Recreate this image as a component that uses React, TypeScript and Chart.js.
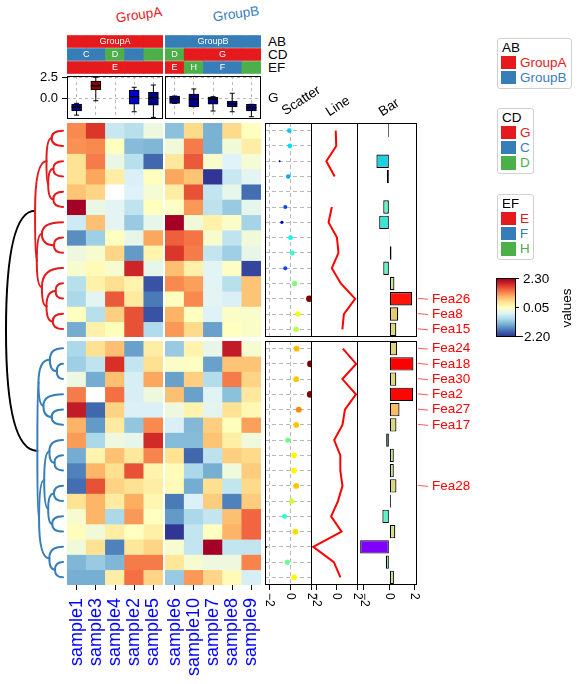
import React, { useEffect, useRef } from 'react';
import { Chart, registerables } from 'chart.js';

Chart.register(...registerables);

const FONT = '"Liberation Sans", Arial, Helvetica, sans-serif';
Chart.defaults.font.family = FONT;
Chart.defaults.color = '#000000';

// ---------------- data ----------------
const samplesA = ['sample1', 'sample3', 'sample4', 'sample2', 'sample5'];
const samplesB = ['sample6', 'sample10', 'sample7', 'sample8', 'sample9'];

const abLevelsA = ['GroupA', 'GroupA', 'GroupA', 'GroupA', 'GroupA'];
const abLevelsB = ['GroupB', 'GroupB', 'GroupB', 'GroupB', 'GroupB'];
const cdLevelsA = ['C', 'C', 'D', 'C', 'D'];
const cdLevelsB = ['D', 'G', 'G', 'G', 'G'];
const efLevelsA = ['E', 'E', 'E', 'E', 'E'];
const efLevelsB = ['E', 'H', 'F', 'F', 'H'];

const levelColors: Record<string, string> = {
  GroupA: '#E41A1C', GroupB: '#377EB8',
  G: '#E41A1C', C: '#377EB8', D: '#4DAF4A',
  E: '#E41A1C', F: '#377EB8', H: '#4DAF4A',
};

// heatmap values per sample: 14 rows of the upper slice, then 16 rows of the lower slice
const sample1 = [1.2, 1.15, 0.45, 0.45, 0.75, 2.3, -0.55, -1.55, -0.2, -0.07, -0.75, -0.85, 0.05, -1.3,
  -0.85, -0.95, -0.22, 1.3, 2.05, 0.9, 1.08, -1.3, -1.65, -1.8, 0.45, -0.08, 0.08, -0.15, -1.2, -1.28];
const sample3 = [1.8, 1.2, 1.3, 1.0, 0.6, -0.25, 0.8, -0.95, -0.07, 0.12, 0.25, -0.36, -0.75, 0.25,
  0.48, -0.68, -1.3, null, -1.85, -1.45, -0.85, 0.22, 0.88, 1.6, 0.88, 0.88, -0.15, 0.47, -1.0, -1.28];
const sample4 = [-0.6, 0.05, -0.25, 0.3, null, -0.35, -0.36, 0.05, 0.6, -0.08, 0.5, 1.55, 0.65, 0.08,
  0.8, 1.85, 0.8, 1.38, 0.62, 0.35, -0.2, 0.78, 0.5, 0.62, 0.32, -0.85, 0.3, -1.65, -1.2, 0.3];
const sample2 = [-0.75, -1.15, -0.75, -0.45, -0.42, -0.68, -1.0, -0.28, -1.45, 1.95, 0.22, 0.35, 1.6, 1.6,
  -1.4, -0.65, -0.48, -0.48, -0.43, -1.05, -0.3, 0.38, 1.6, 0.47, 0.95, 1.1, 0.05, 0.4, 1.3, 1.38];
const sample5 = [-0.2, -1.2, -1.85, 0.07, -0.1, 0.05, -0.3, 1.0, 0.2, -0.3, -2.0, -1.7, -2.0, -0.8,
  0.3, 0.48, 1.0, -0.2, -0.43, 1.2, 1.9, 1.25, 0.22, 0.3, 0.18, 0.05, 0.27, 0.6, 1.3, 0.6];
const sample6 = [-1.1, -0.15, 0.38, 1.0, 0.3, 0.0, 2.3, 1.5, 1.8, 0.8, 1.2, 0.05, 0.9, 1.1,
  -1.0, -0.02, -1.4, 0.8, -0.2, -0.45, -1.15, 0.45, 0.1, 0.12, -1.7, -1.45, -2.2, -0.08, 0.4, -1.0];
const sample10 = [0.55, 1.3, 1.55, 0.75, 1.6, 1.1, -0.15, 1.35, 1.3, 0.25, 1.05, 1.2, 0.05, 0.55,
  0.22, 0.03, 0.65, -1.4, 0.22, -1.18, -1.15, -1.85, -0.85, -1.3, -0.43, -0.85, -0.65, -0.65, -0.08, 1.1];
const sample7 = [-1.25, -1.25, -0.05, -2.2, -0.65, -0.7, 0.25, -0.05, -0.65, -0.37, -0.37, -0.36, -0.42, -1.4,
  -0.28, -1.4, -0.78, -0.38, -0.34, 0.65, 0.75, -0.7, -1.28, 0.5, 0.68, -0.65, 0.05, 2.3, -0.2, 0.6];
const sample8 = [0.55, -0.15, -0.4, -0.6, -0.3, -1.0, -0.02, -0.68, -0.95, 0.0, -0.75, -0.45, -0.01, 0.05,
  2.05, 0.75, 1.3, -1.1, 0.45, 0.07, 0.28, 0.65, -0.17, -0.65, -1.65, 0.8, 0.9, -0.65, -0.2, 0.12];
const sample9 = [0.05, 0.3, -0.1, -0.35, -1.8, -0.3, -0.9, -0.15, -0.28, -2.1, 0.75, 0.75, -0.03, -0.01,
  -0.08, 0.75, 0.6, 0.38, 0.15, 1.05, -0.18, 0.55, 0.68, 0.55, 0.68, 1.45, 1.45, -0.65, 1.25, -0.48];

const heatValues: Record<string, (number | null)[]> = {
  sample1, sample3, sample4, sample2, sample5, sample6, sample10, sample7, sample8, sample9,
};

const topRowCount = 14;
const bottomRowCount = 16;
const topRowLabels = ['', '', '', '', '', '', '', '', '', '', '', 'Fea26', 'Fea8', 'Fea15'];
const bottomRowLabels = ['Fea24', 'Fea18', 'Fea30', 'Fea2', 'Fea27', 'Fea17', '', '', '', 'Fea28', '', '', '', '', '', ''];

// row annotation values (scatter / line / bar)
const topAnnoValues = [-0.1, -0.05, -1.02, -0.2, null, -0.48, -0.8, 0.02, 0.17, -0.48, 0.4, 1.8, 0.7, 0.55];
const bottomAnnoValues = [0.6, 1.9, 0.55, 1.88, 0.8, 0.56, -0.25, 0.35, 0.35, 0.56, 0.12, -0.55, 0.47, -2.3, -0.28, 0.36];

// column boxplot statistics, order samplesA then samplesB
const boxMin = [-2.0, -0.29, null, -1.6, -2.27, -0.6, -1.0, -1.51, -1.6, -2.19];
const boxQ1 = [-1.5, 0.99, null, -0.71, -0.83, -0.6, -1.0, -0.71, -1.0, -1.51];
const boxMedian = [-1.07, 1.5, null, 0.19, 0.07, -0.04, -0.12, -0.08, -0.64, -1.12];
const boxQ3 = [-0.68, 2.06, null, 0.99, 0.71, 0.27, 0.51, 0.15, -0.32, -0.71];
const boxMax = [-0.6, 2.5, null, 1.31, 1.58, 0.27, 1.11, 0.19, 0.6, -0.71];

const annoTicks = [-2, 0, 2];
const boxTicks = [0, 2.5];
const legendTicks = [2.3, 0.05, -2.2];
const heatRange = [-2.2, 2.3];

// row dendrogram: [height, left, right]; leaves are row indices
type Tree = number | [number, Tree, Tree];
const topTree: Tree = [4.9,
  [2.9, [2.0, 0, 1], [2.6, [1.7, 2, 3], [1.7, 4, 5]]],
  [4.6, [3.7, 6, [1.6, 7, 8]], [3.7, 9, [2.9, [1.3, 10, 11], [1.8, 12, 13]]]]];
const bottomTree: Tree = [4.5,
  [4.3, [2.3, 14, [1.1, 15, 16]], [3.45, 17, [2.0, 18, 19]]],
  [4.2, [3.3, [2.4, 20, [1.5, 21, 22]], [2.6, [1.6, 23, 24], [1.9, 25, 26]]], [2.4, 27, [1.4, 28, 29]]]];
const rootHeight = 10;

// ---------------- colour helpers ----------------
const RDYLBU = ['#313695', '#4575b4', '#74add1', '#abd9e9', '#e0f3f8', '#ffffbf', '#fee090', '#fdae61', '#f46d43', '#d73027', '#a50026'];
const clamp01 = (x: number) => Math.max(0, Math.min(1, x));
const rgb = (r: number, g: number, b: number) => `rgb(${Math.round(r * 255)},${Math.round(g * 255)},${Math.round(b * 255)})`;
const hex = (h: string) => [parseInt(h.slice(1, 3), 16), parseInt(h.slice(3, 5), 16), parseInt(h.slice(5, 7), 16)];
function heatColor(v: number | null | undefined) {
  if (v == null) return '#ffffff';
  const t = clamp01((v - heatRange[0]) / (heatRange[1] - heatRange[0])) * (RDYLBU.length - 1);
  const i = Math.min(RDYLBU.length - 2, Math.floor(t));
  const f = t - i;
  const a = hex(RDYLBU[i]);
  const b = hex(RDYLBU[i + 1]);
  return `rgb(${Math.round(a[0] + (b[0] - a[0]) * f)},${Math.round(a[1] + (b[1] - a[1]) * f)},${Math.round(a[2] + (b[2] - a[2]) * f)})`;
}
const jet = (t: number) => rgb(clamp01(1.5 - Math.abs(4 * t - 3)), clamp01(1.5 - Math.abs(4 * t - 2)), clamp01(1.5 - Math.abs(4 * t - 1)));
const rainbow = (t: number) => rgb(clamp01(Math.abs(2 * t - 0.5)), clamp01(Math.sin(Math.PI * t)), clamp01(Math.cos((Math.PI * t) / 2)));
function boxColor(m: number | null) {
  if (m == null) return 'transparent';
  if (m > 1) return '#8B0000';
  if (m > 0.15) return '#0000CD';
  return '#00008B';
}
const fmtMinus = (v: number) => (v < 0 ? '\u2212' + String(Math.abs(v)) : String(v));

const allAnno = [...topAnnoValues, ...bottomAnnoValues].filter((v) => v != null) as number[];
const annoLo = Math.min(...allAnno);
const annoHi = Math.max(...allAnno);

// ---------------- plugins ----------------
const framePlugin = {
  id: 'frame',
  afterDraw(chart: any) {
    const { left, top, right, bottom } = chart.chartArea;
    const ctx = chart.ctx;
    ctx.save();
    ctx.strokeStyle = '#000';
    ctx.lineWidth = 1;
    ctx.strokeRect(Math.round(left) + 0.5, Math.round(top) + 0.5, Math.round(right - left) - 1, Math.round(bottom - top) - 1);
    ctx.restore();
  },
};

const rotTickPlugin = {
  id: 'rotTicks',
  afterDraw(chart: any) {
    const xs = chart.scales.x;
    const ctx = chart.ctx;
    ctx.save();
    ctx.font = `12px ${FONT}`;
    ctx.fillStyle = '#000';
    ctx.textAlign = 'left';
    ctx.textBaseline = 'middle';
    for (const v of annoTicks) {
      const px = xs.getPixelForValue(v);
      ctx.save();
      ctx.translate(px, chart.chartArea.bottom + 8);
      ctx.rotate(Math.PI / 2);
      ctx.fillText(fmtMinus(v), 0, 0);
      ctx.restore();
    }
    ctx.restore();
  },
};

function annoTextPlugin(rows: string[][]) {
  return {
    id: 'annoText',
    afterDatasetsDraw(chart: any) {
      const xs = chart.scales.x;
      const ys = chart.scales.y;
      const ctx = chart.ctx;
      ctx.save();
      ctx.fillStyle = '#ffffff';
      ctx.font = `9px ${FONT}`;
      ctx.textAlign = 'center';
      ctx.textBaseline = 'middle';
      rows.forEach((levels, a) => {
        const seen = new Set<string>();
        let i = 0;
        while (i < levels.length) {
          let j = i;
          while (j + 1 < levels.length && levels[j + 1] === levels[i]) j++;
          if (!seen.has(levels[i])) {
            seen.add(levels[i]);
            const cx = (xs.getPixelForValue(i) + xs.getPixelForValue(j)) / 2;
            ctx.fillText(levels[i], cx, ys.getPixelForValue(a + 0.5) + 0.5);
          }
          i = j + 1;
        }
      });
      ctx.restore();
    },
  };
}

function markPlugin(labels: string[]) {
  return {
    id: 'marks',
    afterDraw(chart: any) {
      const ys = chart.scales.y;
      const right = chart.chartArea.right;
      const ctx = chart.ctx;
      ctx.save();
      ctx.font = `13.5px ${FONT}`;
      ctx.fillStyle = '#FF0000';
      ctx.strokeStyle = '#FF3030';
      ctx.lineWidth = 0.8;
      ctx.textAlign = 'left';
      ctx.textBaseline = 'middle';
      labels.forEach((lab, i) => {
        if (!lab) return;
        const py = ys.getPixelForValue(i);
        ctx.beginPath();
        ctx.moveTo(right + 1, py - 0.5);
        ctx.lineTo(right + 11, py + 0.5);
        ctx.stroke();
        ctx.fillText(lab, right + 15, py);
      });
      ctx.restore();
    },
  };
}

function dendroPlugin(edges: any[]) {
  return {
    id: 'dendro',
    afterDatasetsDraw(chart: any) {
      const xs = chart.scales.x;
      const ys = chart.scales.y;
      const ctx = chart.ctx;
      ctx.save();
      ctx.lineWidth = 2;
      ctx.lineCap = 'round';
      for (const e of edges) {
        const px = xs.getPixelForValue(e.p.h);
        const py = ys.getPixelForValue(e.p.y);
        const cx = xs.getPixelForValue(e.c.h);
        const cy = ys.getPixelForValue(e.c.y);
        ctx.strokeStyle = e.color;
        ctx.beginPath();
        ctx.moveTo(px, py);
        ctx.quadraticCurveTo(px, cy, cx, cy);
        ctx.stroke();
      }
      ctx.restore();
    },
  };
}

// ---------------- chart configs ----------------
function baseOptions(scales: any, padding: any = 0, extra: any = {}) {
  return {
    responsive: false,
    maintainAspectRatio: false,
    animation: false,
    events: [],
    layout: { padding, autoPadding: false },
    plugins: { legend: { display: false }, tooltip: { enabled: false }, title: { display: false } },
    scales,
    ...extra,
  };
}

function heatConfig(samples: string[], start: number, n: number, withLabels: boolean) {
  const datasets = Array.from({ length: n }, (_, r) => ({
    data: samples.map(() => [r, r + 1]),
    backgroundColor: samples.map((s) => heatColor(heatValues[s][start + r])),
    borderWidth: 0,
    grouped: false,
    barPercentage: 1,
    categoryPercentage: 1,
  }));
  return {
    type: 'bar',
    data: { labels: samples, datasets },
    options: baseOptions(
      {
        x: {
          type: 'category',
          display: withLabels,
          offset: true,
          grid: { offset: false, drawOnChartArea: false, drawTicks: true, tickLength: 5, tickColor: '#000', tickWidth: 1 },
          border: { display: false },
          ticks: { color: '#0000FF', font: { size: 18 }, minRotation: 90, maxRotation: 90, padding: 8, autoSkip: false },
          afterFit: (s: any) => { s.height = withLabels ? 95 : 0; s.paddingLeft = 0; s.paddingRight = 0; },
        },
        y: { type: 'linear', min: 0, max: n, reverse: true, display: false },
      },
      withLabels ? { left: 6, right: 6, top: 0, bottom: 0 } : 0,
    ),
  };
}

function colAnnoConfig(samples: string[], rows: string[][]) {
  const datasets = rows.map((levels, a) => ({
    data: samples.map(() => [a + 0.04, a + 0.96]),
    backgroundColor: levels.map((l) => levelColors[l]),
    borderWidth: 0,
    grouped: false,
    barPercentage: 1,
    categoryPercentage: 1,
  }));
  return {
    type: 'bar',
    data: { labels: samples, datasets },
    options: baseOptions({
      x: { type: 'category', display: false },
      y: { type: 'linear', min: 0, max: rows.length, reverse: true, display: false },
    }),
    plugins: [annoTextPlugin(rows)],
  };
}

function boxConfig(samples: string[], offset: number, showAxis: boolean) {
  const idx = samples.map((_, i) => offset + i);
  const gridColor = '#b8b8b8';
  return {
    type: 'bar',
    data: {
      labels: samples,
      datasets: [
        { type: 'line', data: idx.map((i) => boxMedian[i]), showLine: false, pointStyle: 'line', pointRadius: 5, pointBorderColor: '#000', pointBackgroundColor: '#000', pointBorderWidth: 1.5, order: 1 },
        { type: 'bar', data: idx.map((i) => (boxQ1[i] == null ? null : [boxQ1[i], boxQ3[i]])), backgroundColor: idx.map((i) => boxColor(boxMedian[i])), borderColor: '#000', borderWidth: 1, borderSkipped: false, barThickness: 10, grouped: false, order: 2 },
        { type: 'line', data: idx.map((i) => boxMax[i]), showLine: false, pointStyle: 'line', pointRadius: 2.5, pointBorderColor: '#000', pointBackgroundColor: '#000', pointBorderWidth: 1, order: 3 },
        { type: 'line', data: idx.map((i) => boxMin[i]), showLine: false, pointStyle: 'line', pointRadius: 2.5, pointBorderColor: '#000', pointBackgroundColor: '#000', pointBorderWidth: 1, order: 3 },
        { type: 'bar', data: idx.map((i) => (boxMin[i] == null ? null : [boxMin[i], boxMax[i]])), backgroundColor: '#000', borderWidth: 0, barThickness: 1, inflateAmount: 0, grouped: false, order: 4 },
      ],
    },
    options: baseOptions(
      {
        x: {
          type: 'category', offset: true,
          grid: { offset: false, color: gridColor, drawTicks: false },
          border: { display: false, dash: [3, 3] },
          ticks: { display: false },
          afterFit: (s: any) => { s.height = 0; s.paddingLeft = 0; s.paddingRight = 0; },
        },
        y: {
          type: 'linear', min: -2.46, max: 2.65,
          afterBuildTicks: (s: any) => { s.ticks = boxTicks.map((v) => ({ value: v })); },
          ticks: { display: showAxis, font: { size: 13 }, color: '#000', padding: 4, callback: (v: any) => Number(v).toFixed(1) },
          grid: { color: gridColor, drawTicks: showAxis, tickLength: 5, tickColor: '#000' },
          border: { display: false, dash: [3, 3] },
          afterFit: (s: any) => { s.width = showAxis ? 30 : 0; s.paddingTop = 0; s.paddingBottom = 0; },
        },
      },
      { top: 10, left: 0, right: 0, bottom: 0 },
    ),
    plugins: [framePlugin],
  };
}

function annoX(min: number, max: number, withAxis: boolean, gridOnArea: boolean) {
  return {
    type: 'linear', min, max,
    afterBuildTicks: (s: any) => { s.ticks = annoTicks.map((v) => ({ value: v })); },
    ticks: { display: false },
    grid: { color: '#b8b8b8', drawOnChartArea: gridOnArea, drawTicks: withAxis, tickLength: 5, tickColor: '#000' },
    border: { display: false, dash: [4, 3] },
    afterFit: (s: any) => { s.height = withAxis ? 30 : 0; s.paddingLeft = 0; s.paddingRight = 0; },
  };
}

function scatterConfig(values: (number | null)[], withAxis: boolean) {
  const vals = values.filter((v) => v != null) as number[];
  const lo = Math.min(...vals);
  const hi = Math.max(...vals);
  const pts: any[] = [];
  const colors: string[] = [];
  const radii: number[] = [];
  values.forEach((v, i) => {
    if (v == null) return;
    const t = (v - lo) / (hi - lo);
    pts.push({ x: v, y: i + 0.5 });
    colors.push(jet(t));
    radii.push(1 + 2.3 * Math.sqrt(t));
  });
  const n = values.length;
  return {
    type: 'scatter',
    data: { datasets: [{ data: pts, pointBackgroundColor: colors, pointBorderWidth: 0, pointRadius: radii }] },
    options: baseOptions(
      {
        x: annoX(-2.4, 2.05, withAxis, true),
        y: {
          type: 'linear', min: 0, max: n, reverse: true,
          afterBuildTicks: (s: any) => { s.ticks = values.map((_, i) => ({ value: i + 0.5 })); },
          ticks: { display: false },
          grid: { color: '#b8b8b8', drawTicks: false },
          border: { display: false, dash: [4, 3] },
          afterFit: (s: any) => { s.width = 0; },
        },
      },
      { left: 8, right: 8, top: 0, bottom: 0 },
    ),
    plugins: withAxis ? [framePlugin, rotTickPlugin] : [framePlugin],
  };
}

function lineConfig(values: (number | null)[], withAxis: boolean) {
  const n = values.length;
  return {
    type: 'line',
    data: {
      datasets: [{
        data: values.map((v, i) => ({ x: v, y: i + 0.5 })),
        borderColor: '#FF0000', borderWidth: 2, pointRadius: 0, tension: 0, spanGaps: false, fill: false,
      }],
    },
    options: baseOptions(
      {
        x: annoX(-2.52, 2.08, withAxis, false),
        y: { type: 'linear', min: 0, max: n, reverse: true, display: false },
      },
      { left: 8, right: 8, top: 0, bottom: 0 },
      { indexAxis: 'y' },
    ),
    plugins: withAxis ? [framePlugin, rotTickPlugin] : [framePlugin],
  };
}

function barConfig(values: (number | null)[], labels: string[], withAxis: boolean) {
  return {
    type: 'bar',
    data: {
      labels,
      datasets: [{
        data: values,
        backgroundColor: values.map((v) => (v == null ? 'transparent' : rainbow((v - annoLo) / (annoHi - annoLo)))),
        borderColor: '#000', borderWidth: 1.2, borderSkipped: false, barPercentage: 0.88, categoryPercentage: 1,
      }],
    },
    options: baseOptions(
      {
        x: annoX(-2.55, 2.18, withAxis, false),
        y: { type: 'category', display: false, offset: true },
      },
      { left: 8, right: 60, top: 0, bottom: 0 },
      { indexAxis: 'y' },
    ),
    plugins: withAxis ? [framePlugin, rotTickPlugin, markPlugin(labels)] : [framePlugin, markPlugin(labels)],
  };
}

function dendroConfig() {
  const gap = 0.262;
  const rowPos = (i: number) => i + 0.5 + (i >= topRowCount ? gap : 0);
  const edges: any[] = [];
  const nodes: any[] = [];
  const place = (t: Tree, color: string): { h: number; y: number } => {
    if (typeof t === 'number') return { h: 0, y: rowPos(t) };
    const a = place(t[1], color);
    const b = place(t[2], color);
    const node = { h: t[0], y: (a.y + b.y) / 2 };
    edges.push({ p: node, c: a, color }, { p: node, c: b, color });
    nodes.push({ x: node.h, y: node.y });
    return node;
  };
  const T = place(topTree, '#E41A1C');
  const B = place(bottomTree, '#377EB8');
  const R = { h: rootHeight, y: (T.y + B.y) / 2 };
  edges.unshift({ p: R, c: T, color: '#000' }, { p: R, c: B, color: '#000' });
  nodes.push({ x: R.h, y: R.y });
  return {
    type: 'scatter',
    data: { datasets: [{ data: nodes, pointRadius: 0 }] },
    options: baseOptions({
      x: { type: 'linear', min: -0.7, max: 11.05, reverse: true, display: false },
      y: { type: 'linear', min: 0, max: topRowCount + bottomRowCount + gap, reverse: true, display: false },
    }),
    plugins: [dendroPlugin(edges)],
  };
}

// ---------------- components ----------------
function ChartBox({ left, top, width, height, make }: { left: number; top: number; width: number; height: number; make: () => any }) {
  const ref = useRef<HTMLCanvasElement | null>(null);
  useEffect(() => {
    const chart = new Chart(ref.current as HTMLCanvasElement, make());
    return () => chart.destroy();
  }, []);
  return <canvas ref={ref} width={width} height={height} style={{ position: 'absolute', left, top, width, height }} />;
}

function Txt({ x, y, text, size = 13.5, color = '#000', rotate = 0, anchor = 'left' }: any) {
  const tx = anchor === 'center' ? '-50%' : anchor === 'right' ? '-100%' : '0';
  return (
    <div style={{ position: 'absolute', left: x, top: y, transform: `translate(${tx}, -50%) rotate(${rotate}deg)`, fontSize: size, lineHeight: 1, color, whiteSpace: 'pre', fontFamily: FONT }}>
      {text}
    </div>
  );
}

function SlantTitle({ x, y, text }: { x: number; y: number; text: string }) {
  return (
    <div style={{ position: 'absolute', left: x, top: y - 14, height: 14, lineHeight: '14px', fontSize: 13.5, transformOrigin: 'left bottom', transform: 'rotate(-33deg)', whiteSpace: 'nowrap', fontFamily: FONT, color: '#000' }}>
      {text}
    </div>
  );
}

function LegendBox({ left, top, width, height, title, items }: { left: number; top: number; width: number; height: number; title: string; items: string[] }) {
  return (
    <div style={{ position: 'absolute', left, top, width, height, border: '1px solid #d0d0d0', borderRadius: 3, boxSizing: 'border-box', background: '#fff', fontFamily: FONT }}>
      <div style={{ position: 'absolute', left: 4, top: 1, fontSize: 13.5, lineHeight: '15px', color: '#000' }}>{title}</div>
      {items.map((it, k) => (
        <React.Fragment key={it}>
          <div style={{ position: 'absolute', left: 3, top: 16.5 + 15.3 * k, width: 15, height: 13.5, background: levelColors[it] }} />
          <div style={{ position: 'absolute', left: 22, top: 16.5 + 15.3 * k, lineHeight: '14px', fontSize: 13.5, color: levelColors[it], whiteSpace: 'nowrap' }}>{it}</div>
        </React.Fragment>
      ))}
    </div>
  );
}

export default function App() {
  const rowsA = [abLevelsA, cdLevelsA, efLevelsA];
  const rowsB = [abLevelsB, cdLevelsB, efLevelsB];
  const cbTop = 278.5;
  const cbH = 58;
  return (
    <div style={{ position: 'absolute', left: 0, top: 0, width: 581, height: 684, background: '#fff', overflow: 'hidden', fontFamily: FONT }}>
      {/* column titles */}
      <Txt x={139} y={15} text="GroupA" color="#E41A1C" rotate={-8} anchor="center" />
      <Txt x={236} y={14} text="GroupB" color="#377EB8" rotate={-8} anchor="center" />

      {/* column annotations */}
      <ChartBox left={67} top={35} width={96} height={39} make={() => colAnnoConfig(samplesA, rowsA)} />
      <ChartBox left={165} top={35} width={96} height={39} make={() => colAnnoConfig(samplesB, rowsB)} />
      <Txt x={268} y={41.5} text="AB" />
      <Txt x={268} y={54.5} text="CD" />
      <Txt x={268} y={68} text="EF" />

      {/* boxplot annotation */}
      <ChartBox left={37} top={66} width={126} height={53} make={() => boxConfig(samplesA, 0, true)} />
      <ChartBox left={165} top={66} width={96} height={53} make={() => boxConfig(samplesB, 5, false)} />
      <Txt x={268} y={98} text="G" />

      {/* dendrogram */}
      <ChartBox left={0} top={123} width={67} height={462} make={dendroConfig} />

      {/* heatmap */}
      <ChartBox left={67} top={123} width={96} height={214} make={() => heatConfig(samplesA, 0, topRowCount, false)} />
      <ChartBox left={165} top={123} width={96} height={214} make={() => heatConfig(samplesB, 0, topRowCount, false)} />
      <ChartBox left={61} top={341} width={108} height={339} make={() => heatConfig(samplesA, topRowCount, bottomRowCount, true)} />
      <ChartBox left={159} top={341} width={108} height={339} make={() => heatConfig(samplesB, topRowCount, bottomRowCount, true)} />

      {/* row annotation titles */}
      <SlantTitle x={287} y={118} text="Scatter" />
      <SlantTitle x={331} y={119} text="Line" />
      <SlantTitle x={384} y={119} text="Bar" />

      {/* row annotations */}
      <ChartBox left={257} top={123} width={63} height={214} make={() => scatterConfig(topAnnoValues, false)} />
      <ChartBox left={303} top={123} width={63} height={214} make={() => lineConfig(topAnnoValues, false)} />
      <ChartBox left={349} top={123} width={128} height={214} make={() => barConfig(topAnnoValues, topRowLabels, false)} />
      <ChartBox left={257} top={341} width={63} height={274} make={() => scatterConfig(bottomAnnoValues, true)} />
      <ChartBox left={303} top={341} width={63} height={274} make={() => lineConfig(bottomAnnoValues, true)} />
      <ChartBox left={349} top={341} width={128} height={274} make={() => barConfig(bottomAnnoValues, bottomRowLabels, true)} />

      {/* legends */}
      <LegendBox left={497} top={38} width={75} height={51} title="AB" items={['GroupA', 'GroupB']} />
      <LegendBox left={497} top={108} width={37} height={66} title="CD" items={['G', 'C', 'D']} />
      <LegendBox left={497} top={194} width={37} height={66} title="EF" items={['E', 'F', 'H']} />

      <div style={{ position: 'absolute', left: 496, top: cbTop - 0.5, width: 19.5, height: cbH + 1, boxSizing: 'border-box', border: '1px solid #000', background: `linear-gradient(to top, ${RDYLBU.join(',')})` }} />
      {legendTicks.map((v) => {
        const y = cbTop + ((heatRange[1] - v) / (heatRange[1] - heatRange[0])) * cbH;
        return (
          <React.Fragment key={v}>
            <div style={{ position: 'absolute', left: 515, top: y - 0.5, width: 4, height: 1, background: '#000' }} />
            <Txt x={v < 0 ? 516 : 523} y={y} text={v < 0 ? fmtMinus(v).replace('2.2', '2.20') : v.toFixed(2)} />
          </React.Fragment>
        );
      })}
      <Txt x={567} y={308} text="values" rotate={-90} anchor="center" />
    </div>
  );
}
